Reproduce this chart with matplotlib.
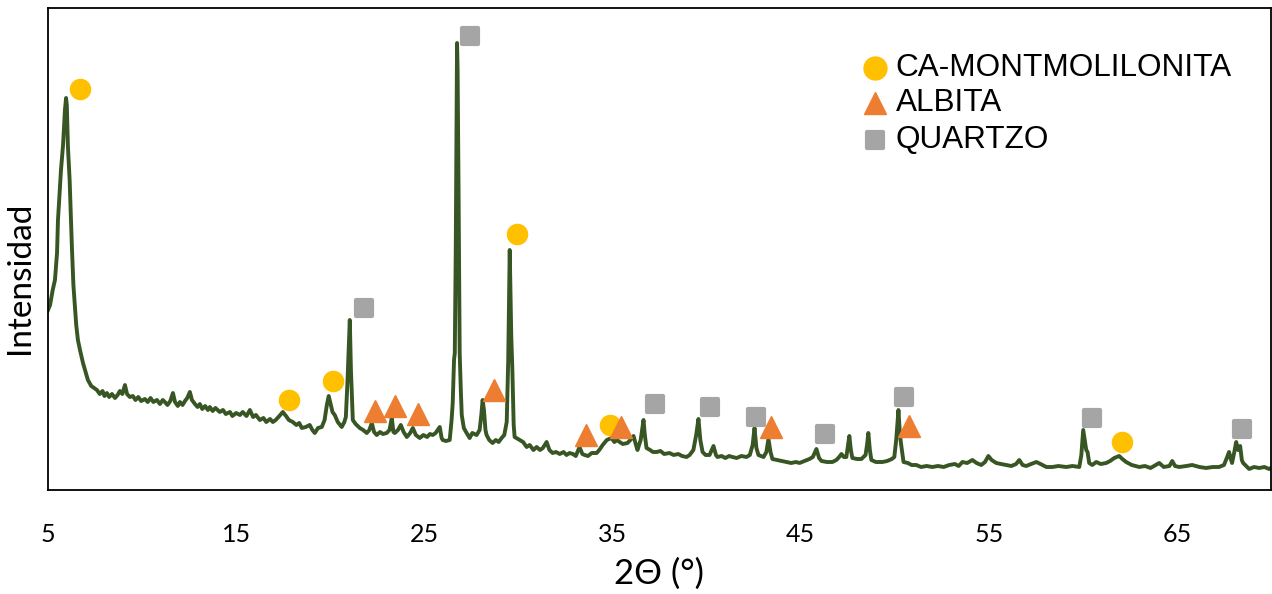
import matplotlib
matplotlib.use("Agg")
import matplotlib.pyplot as plt
from matplotlib.markers import MarkerStyle

# ---- XRD pattern (2-theta in degrees, intensity in arbitrary units) ----
two_theta = [
    5.00, 5.11, 5.25, 5.37, 5.48, 5.53, 5.69, 5.80, 5.85, 5.90, 5.96, 6.00, 6.06, 6.15, 6.27, 6.35,
    6.43, 6.50, 6.59, 6.70, 6.86, 7.00, 7.12, 7.30, 7.45, 7.60, 7.75, 7.90, 8.00, 8.13, 8.25, 8.40,
    8.56, 8.70, 8.82, 8.95, 9.09, 9.20, 9.35, 9.51, 9.65, 9.80, 9.95, 10.15, 10.30, 10.45, 10.60, 10.79,
    10.95, 11.10, 11.21, 11.35, 11.50, 11.64, 11.75, 11.90, 12.01, 12.15, 12.28, 12.40, 12.54, 12.65, 12.81, 12.95,
    13.07, 13.20, 13.35, 13.50, 13.60, 13.75, 13.90, 14.13, 14.30, 14.45, 14.67, 14.80, 15.00, 15.20, 15.35, 15.55,
    15.73, 15.90, 16.05, 16.26, 16.45, 16.60, 16.80, 16.95, 17.10, 17.25, 17.48, 17.65, 17.80, 18.01, 18.20, 18.35,
    18.49, 18.70, 18.91, 19.05, 19.18, 19.35, 19.55, 19.70, 19.82, 19.92, 20.02, 20.12, 20.24, 20.40, 20.61, 20.75,
    20.83, 20.92, 21.04, 21.10, 21.20, 21.35, 21.57, 21.75, 21.94, 22.08, 22.21, 22.33, 22.47, 22.65, 22.80, 23.00,
    23.15, 23.27, 23.36, 23.43, 23.60, 23.75, 23.90, 24.07, 24.25, 24.39, 24.55, 24.76, 24.95, 25.15, 25.30, 25.45,
    25.60, 25.82, 25.92, 25.98, 26.15, 26.35, 26.45, 26.51, 26.58, 26.62, 26.67, 26.72, 26.74, 26.77, 26.82, 26.88,
    26.94, 26.99, 27.10, 27.25, 27.41, 27.55, 27.78, 27.94, 28.03, 28.10, 28.17, 28.25, 28.31, 28.45, 28.63, 28.80,
    28.95, 29.11, 29.25, 29.38, 29.46, 29.54, 29.58, 29.62, 29.68, 29.75, 29.80, 30.07, 30.25, 30.44, 30.60, 30.80,
    30.97, 31.15, 31.30, 31.50, 31.65, 31.82, 32.00, 32.20, 32.40, 32.56, 32.72, 32.90, 33.05, 33.25, 33.40, 33.52,
    33.70, 33.90, 34.16, 34.30, 34.48, 34.70, 34.95, 35.10, 35.25, 35.38, 35.55, 35.80, 35.95, 36.12, 36.25, 36.33,
    36.50, 36.65, 36.72, 36.81, 37.00, 37.15, 37.34, 37.55, 37.75, 38.03, 38.25, 38.50, 38.70, 38.94, 39.10, 39.30,
    39.45, 39.57, 39.67, 39.79, 39.95, 40.16, 40.37, 40.50, 40.58, 40.80, 41.00, 41.20, 41.38, 41.60, 41.85, 42.12,
    42.30, 42.45, 42.55, 42.65, 42.76, 42.90, 43.03, 43.18, 43.29, 43.40, 43.50, 43.75, 44.00, 44.25, 44.50, 44.75,
    44.94, 45.20, 45.47, 45.65, 45.84, 45.98, 46.11, 46.40, 46.69, 46.90, 47.05, 47.17, 47.30, 47.43, 47.52, 47.59,
    47.67, 47.75, 48.00, 48.23, 48.45, 48.53, 48.60, 48.68, 48.76, 49.00, 49.35, 49.60, 49.85, 49.98, 50.08, 50.20,
    50.28, 50.36, 50.47, 50.70, 50.90, 51.15, 51.40, 51.70, 52.00, 52.30, 52.60, 52.90, 53.20, 53.40, 53.60, 53.85,
    54.13, 54.35, 54.60, 54.80, 54.98, 55.15, 55.40, 55.65, 55.93, 56.20, 56.45, 56.62, 56.80, 56.99, 57.25, 57.53,
    57.75, 58.06, 58.38, 58.70, 59.12, 59.45, 59.81, 59.92, 60.02, 60.10, 60.18, 60.25, 60.34, 60.50, 60.71, 60.95,
    61.24, 61.45, 61.67, 61.80, 61.93, 62.10, 62.30, 62.60, 63.00, 63.30, 63.60, 64.06, 64.30, 64.60, 64.75, 64.90,
    65.12, 65.50, 65.81, 66.20, 66.55, 66.90, 67.24, 67.50, 67.65, 67.77, 67.88, 67.93, 68.05, 68.15, 68.25, 68.36,
    68.45, 68.52, 68.84, 69.10, 69.37, 69.65, 69.90, 70.00,
]
intensity = [
    180, 185, 200, 210, 237, 270, 320, 345, 363, 380, 392, 385, 343, 310, 243, 205,
    183, 165, 150, 140, 127, 118, 110, 104, 102, 100, 96, 99, 94, 97, 93, 96,
    92, 95, 99, 96, 105, 96, 93, 94, 90, 93, 89, 91, 88, 92, 88, 90,
    86, 90, 88, 85, 89, 97, 88, 84, 88, 85, 89, 92, 98, 90, 86, 83,
    86, 81, 84, 80, 83, 79, 82, 78, 80, 76, 78, 74, 77, 75, 78, 74,
    80, 73, 75, 70, 72, 68, 71, 68, 70, 73, 78, 74, 70, 68, 65, 67,
    62, 63, 65, 60, 57, 62, 63, 70, 85, 94, 86, 78, 75, 68, 63, 68,
    73, 110, 170, 120, 70, 66, 62, 60, 57, 60, 67, 58, 55, 58, 56, 57,
    60, 72, 58, 57, 60, 65, 58, 53, 57, 62, 55, 52, 55, 53, 56, 55,
    57, 63, 52, 50, 49, 50, 70, 87, 130, 137, 237, 400, 447, 420, 300, 137,
    100, 75, 62, 57, 52, 57, 55, 60, 75, 90, 80, 60, 55, 50, 47, 50,
    48, 52, 55, 68, 130, 240, 200, 155, 120, 65, 53, 50, 48, 43, 45, 40,
    43, 40, 42, 48, 40, 37, 38, 36, 38, 35, 37, 36, 34, 43, 36, 35,
    34, 37, 37, 40, 45, 50, 52, 48, 50, 48, 46, 47, 50, 54, 45, 40,
    50, 70, 55, 42, 40, 38, 38, 39, 36, 37, 35, 36, 34, 33, 35, 40,
    55, 71, 50, 38, 35, 35, 44, 35, 33, 34, 32, 34, 33, 32, 34, 33,
    35, 45, 62, 42, 35, 34, 33, 38, 51, 38, 31, 30, 29, 28, 27, 28,
    27, 29, 31, 33, 41, 32, 29, 28, 28, 30, 33, 36, 33, 33, 45, 54,
    40, 32, 31, 31, 35, 45, 57, 40, 30, 28, 28, 29, 31, 33, 50, 80,
    55, 43, 28, 27, 25, 25, 23, 24, 23, 24, 23, 25, 26, 24, 28, 27,
    30, 27, 25, 28, 34, 30, 27, 26, 25, 24, 26, 30, 25, 24, 26, 28,
    26, 23, 23, 24, 23, 24, 23, 35, 60, 50, 40, 38, 27, 25, 28, 26,
    27, 29, 32, 33, 34, 31, 28, 25, 23, 24, 22, 27, 23, 24, 29, 24,
    23, 24, 25, 23, 22, 23, 23, 25, 32, 38, 30, 27, 38, 48, 40, 44,
    30, 27, 21, 23, 22, 23, 21, 22,
]

# ---- phase markers ----
mont_x = [6.70, 17.80, 20.14, 29.91, 34.85, 62.09]
mont_y = [401, 90, 109, 256, 65, 48]
albita_x = [22.37, 23.43, 24.65, 28.69, 33.57, 35.43, 43.45, 50.78]
albita_y = [79, 84, 76, 100, 55, 63, 63, 64]
quartzo_x = [21.78, 27.41, 37.24, 40.16, 42.65, 46.32, 50.51, 60.50, 68.46]
quartzo_y = [182, 454, 86, 83, 73, 56, 93, 72, 61]

legend_labels = ["CA-MONTMOLILONITA", "ALBITA", "QUARTZO"]
xticks = [5, 15, 25, 35, 45, 55, 65]

LINE = "#375623"
C_MONT = "#FFC000"
C_ALB = "#ED7D31"
C_QTZ = "#A5A5A5"

fig = plt.figure(figsize=(12.72, 5.94), dpi=100)
ax = fig.add_axes([48 / 1272, 104 / 594, 1223 / 1272, 482 / 594])

ax.plot(two_theta, intensity, color=LINE, lw=2.8, solid_joinstyle="round", zorder=2)
ms = 14.5
sq = MarkerStyle("s", joinstyle="round")
ax.plot(mont_x, mont_y, "o", ms=ms, color=C_MONT, mec=C_MONT, zorder=3)
ax.plot(quartzo_x, quartzo_y, linestyle="none", marker=sq, ms=11.5, color=C_QTZ,
        mec=C_QTZ, mew=3, zorder=4)
ax.plot(albita_x, albita_y, "^", ms=ms + 1, color=C_ALB, mec=C_ALB, zorder=5)

ax.set_xlim(5, 70)
ax.set_ylim(0, 482)
ax.set_xticks(xticks)
ax.set_yticks([])
ax.tick_params(axis="x", length=0, pad=24, labelsize=18)
for lab in ax.get_xticklabels():
    lab.set_fontfamily("Lato")
for s in ax.spines.values():
    s.set_linewidth(1.3)
    s.set_color("black")

ax.set_xlabel("2Θ (°)", fontsize=25, family="Lato", labelpad=8)
ax.set_ylabel("Intensidad", fontsize=24, family="Lato")
ax.yaxis.set_label_coords(-0.0105, 0.44)

# legend (manual)
leg_y = [0.875, 0.802, 0.726]
leg_m = [("o", C_MONT, 16.5), ("^", C_ALB, 16), ("s", C_QTZ, 15)]
for (m, c, sz), yy, lab in zip(leg_m, leg_y, legend_labels):
    mk = MarkerStyle(m, joinstyle="round") if m == "s" else m
    ax.plot([0.676], [yy], linestyle="none", marker=mk, ms=sz - (3 if m == "s" else 0),
            mew=(3 if m == "s" else 1), color=c, mec=c, transform=ax.transAxes, clip_on=False)
    ax.text(0.693, yy, lab, transform=ax.transAxes, fontsize=22.7, family="Liberation Sans",
            va="center", ha="left")

fig.savefig("out.png", dpi=100)
